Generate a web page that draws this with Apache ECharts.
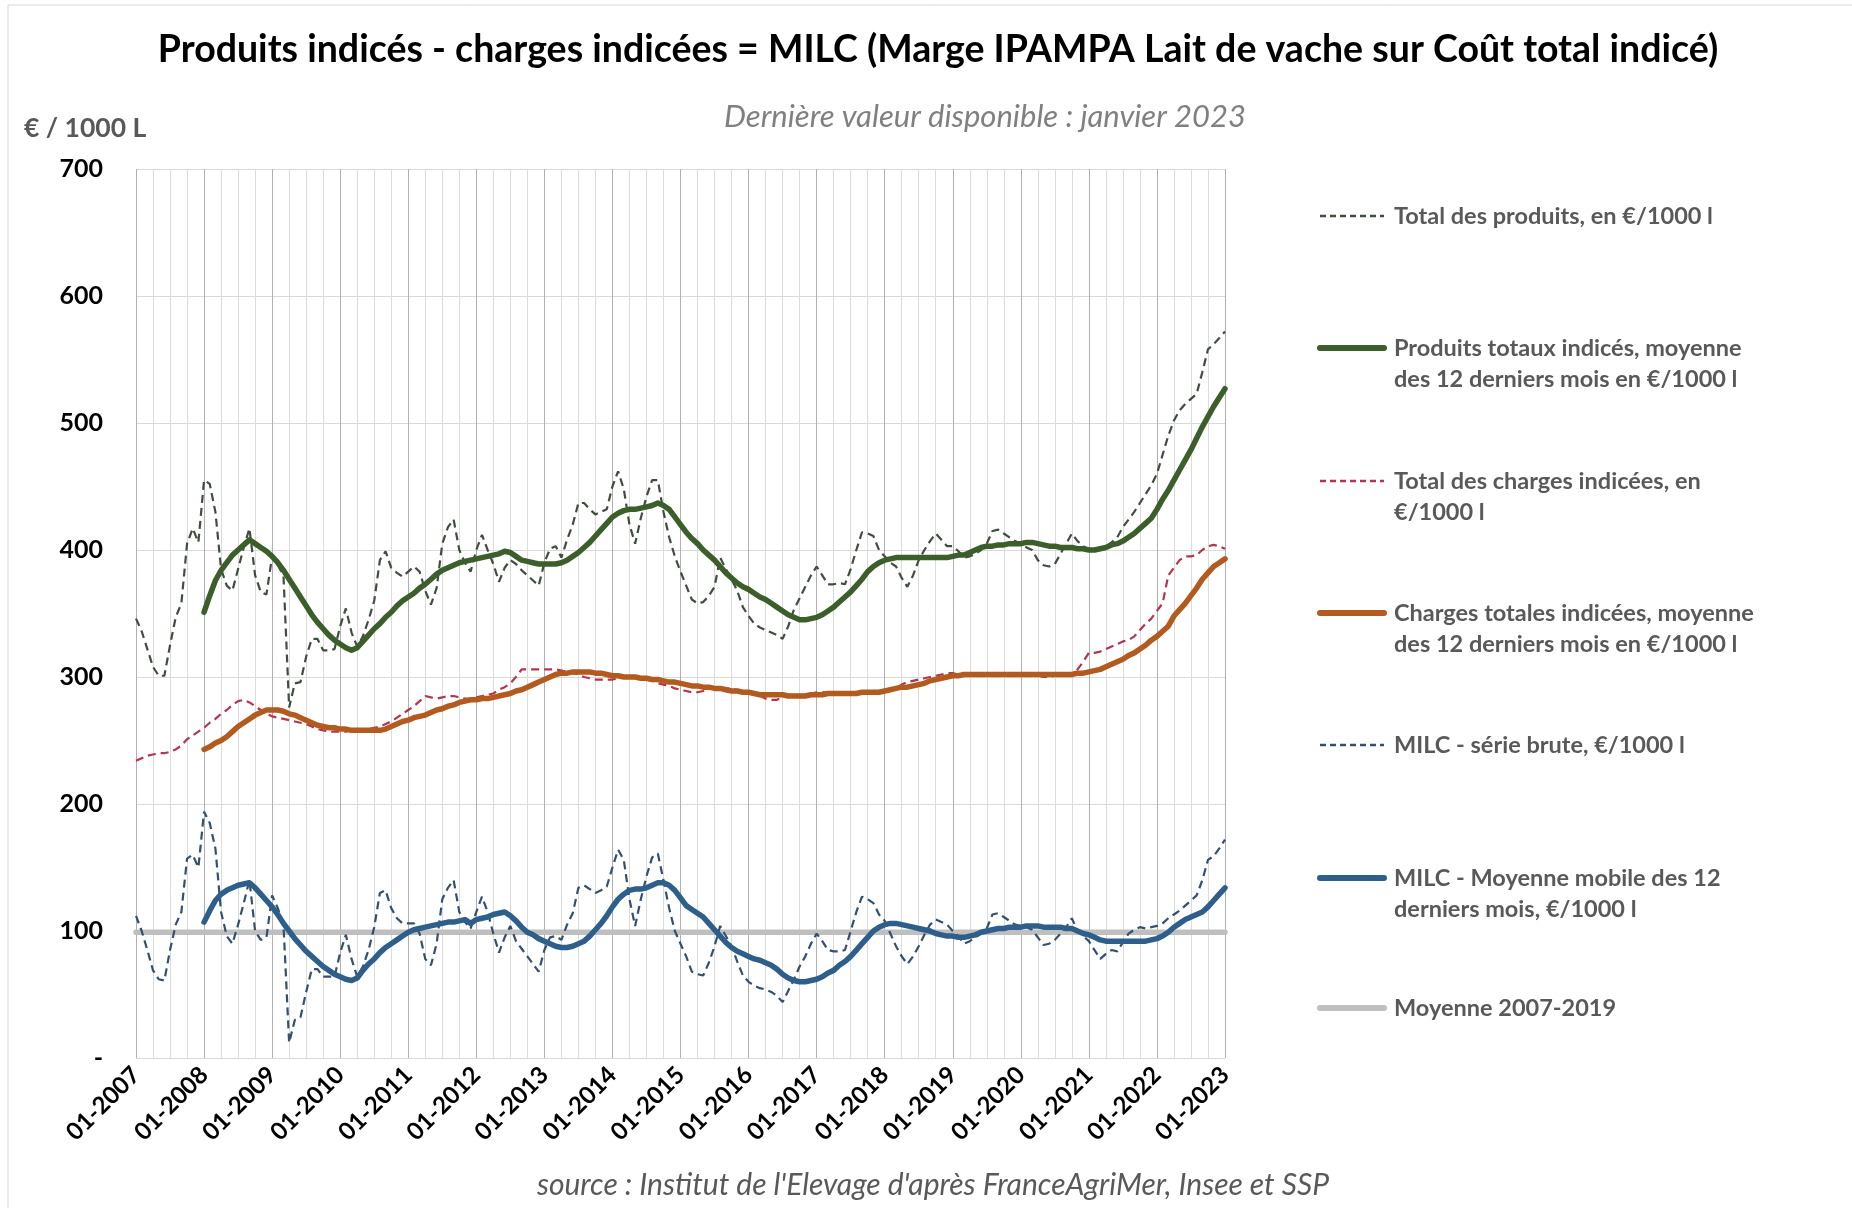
<!DOCTYPE html>
<html>
<head>
<meta charset="utf-8">
<title>MILC - Marge IPAMPA Lait de vache</title>
<script src="https://cdn.jsdelivr.net/npm/echarts@6/dist/echarts.min.js"></script>
<style>
  html, body { margin: 0; padding: 0; background: #fff; }
  #chart { width: 1852px; height: 1208px; }
</style>
</head>
<body>
<div id="chart"></div>
<script>
// axe des mois : 01-2007 -> 01-2023
const months = []
for (let y = 2007; y <= 2023; y++) {
    for (let m = 1; m <= 12; m++) {
        if (y === 2023 && m > 1) break
        months.push((m < 10 ? '0' + m : '' + m) + '-' + y)
    }
}

// Total des produits, en €/1000 l (mensuel)
const totalProduits = [
    346, 336, 322, 308, 301, 301, 325, 347, 358, 405, 417, 406, // 2007
    455, 452, 430, 385, 372, 368, 385, 402, 417, 380, 367, 365, // 2008
    395, 388, 380, 276, 295, 296, 316, 330, 330, 321, 321, 322, // 2009
    340, 354, 335, 324, 332, 345, 360, 392, 399, 386, 382, 379, // 2010
    383, 387, 383, 368, 357, 370, 405, 418, 424, 400, 390, 383, // 2011
    400, 412, 400, 389, 375, 386, 392, 389, 384, 380, 376, 372, // 2012
    390, 401, 403, 394, 408, 420, 437, 437, 432, 428, 430, 432, // 2013
    450, 462, 448, 420, 405, 425, 442, 455, 455, 430, 410, 395, // 2014
    383, 372, 361, 358, 359, 364, 371, 394, 385, 377, 368, 355, // 2015
    348, 342, 339, 337, 335, 333, 330, 340, 353, 362, 371, 380, // 2016
    387, 380, 373, 373, 374, 373, 385, 400, 414, 413, 411, 400, // 2017
    395, 390, 387, 378, 371, 380, 392, 400, 407, 413, 408, 403, // 2018
    403, 399, 394, 395, 397, 400, 405, 415, 416, 413, 410, 407, // 2019
    405, 402, 400, 392, 388, 387, 389, 397, 405, 413, 407, 403, // 2020
    400, 400, 401, 403, 406, 410, 418, 424, 430, 437, 444, 451, // 2021
    460, 475, 490, 502, 510, 515, 519, 523, 540, 558, 562, 567, // 2022
    572                                                         // 2023
]

// Produits totaux indicés, moyenne des 12 derniers mois
const produitsMoy = [
    null, null, null, null, null, null, null, null, null, null, null, null, // 2007
    351, 364, 376, 384, 390, 396, 400, 404, 408, 405, 402, 399, // 2008
    395, 390, 384, 377, 370, 363, 356, 349, 343, 338, 333, 329, // 2009
    326, 323, 321, 323, 328, 333, 338, 342, 347, 351, 356, 360, // 2010
    363, 366, 370, 373, 377, 381, 384, 386, 388, 390, 391, 392, // 2011
    393, 394, 395, 396, 397, 399, 398, 395, 392, 391, 390, 389, // 2012
    389, 389, 389, 390, 392, 395, 398, 402, 406, 411, 416, 421, // 2013
    426, 429, 431, 432, 432, 433, 434, 435, 437, 435, 432, 426, // 2014
    420, 414, 409, 405, 400, 396, 392, 387, 382, 378, 374, 371, // 2015
    369, 366, 363, 361, 358, 355, 352, 349, 347, 345, 345, 346, // 2016
    347, 349, 352, 355, 359, 363, 367, 372, 377, 383, 387, 390, // 2017
    392, 393, 394, 394, 394, 394, 394, 394, 394, 394, 394, 394, // 2018
    395, 396, 396, 398, 400, 402, 403, 403, 404, 404, 405, 405, // 2019
    405, 406, 406, 405, 404, 403, 403, 402, 402, 402, 401, 401, // 2020
    400, 400, 401, 402, 404, 405, 407, 410, 413, 417, 421, 425, // 2021
    432, 440, 447, 455, 463, 471, 479, 488, 497, 505, 513, 520, // 2022
    527                                                         // 2023
]

// Total des charges indicées, en €/1000 l
const totalCharges = [
    234, 236, 238, 239, 240, 240, 241, 243, 246, 251, 254, 257, // 2007
    260, 264, 267, 271, 274, 278, 281, 282, 280, 277, 274, 271, // 2008
    269, 268, 267, 266, 265, 264, 263, 261, 259, 258, 257, 257, // 2009
    257, 257, 258, 258, 258, 259, 260, 261, 263, 265, 268, 271, // 2010
    274, 277, 281, 285, 284, 283, 284, 285, 285, 284, 283, 283, // 2011
    284, 285, 286, 287, 290, 292, 295, 300, 306, 306, 306, 306, // 2012
    306, 306, 306, 305, 304, 303, 302, 300, 299, 298, 298, 298, // 2013
    298, 299, 300, 300, 300, 299, 298, 297, 295, 294, 293, 291, // 2014
    290, 289, 288, 288, 289, 291, 292, 292, 291, 291, 290, 289, // 2015
    288, 287, 285, 283, 282, 282, 284, 286, 286, 286, 286, 287, // 2016
    288, 288, 288, 288, 288, 287, 287, 287, 287, 287, 287, 288, // 2017
    288, 289, 291, 294, 296, 297, 298, 299, 300, 301, 302, 303, // 2018
    303, 302, 302, 302, 302, 302, 302, 302, 302, 302, 302, 302, // 2019
    302, 302, 302, 301, 300, 300, 301, 302, 302, 303, 306, 312, // 2020
    319, 319, 320, 322, 324, 326, 328, 329, 332, 337, 342, 346, // 2021
    352, 358, 380, 386, 392, 395, 395, 396, 400, 403, 404, 403, // 2022
    401                                                         // 2023
]

// Charges totales indicées, moyenne des 12 derniers mois
const chargesMoy = [
    null, null, null, null, null, null, null, null, null, null, null, null, // 2007
    243, 245, 248, 250, 253, 257, 261, 264, 267, 270, 272, 274, // 2008
    274, 274, 273, 271, 270, 268, 266, 264, 262, 261, 260, 260, // 2009
    259, 259, 258, 258, 258, 258, 258, 258, 259, 261, 263, 265, // 2010
    266, 268, 269, 270, 272, 274, 275, 277, 278, 280, 281, 282, // 2011
    282, 283, 283, 284, 285, 286, 287, 289, 290, 292, 294, 296, // 2012
    298, 300, 302, 303, 303, 304, 304, 304, 304, 303, 303, 302, // 2013
    301, 301, 300, 300, 300, 299, 299, 298, 298, 297, 296, 296, // 2014
    295, 294, 293, 293, 292, 292, 291, 291, 290, 289, 289, 288, // 2015
    288, 287, 286, 286, 286, 286, 286, 285, 285, 285, 285, 286, // 2016
    286, 286, 287, 287, 287, 287, 287, 287, 288, 288, 288, 288, // 2017
    289, 290, 291, 292, 292, 293, 294, 295, 297, 298, 299, 300, // 2018
    301, 301, 302, 302, 302, 302, 302, 302, 302, 302, 302, 302, // 2019
    302, 302, 302, 302, 302, 302, 302, 302, 302, 302, 303, 303, // 2020
    304, 305, 306, 308, 310, 312, 314, 317, 319, 322, 325, 329, // 2021
    332, 336, 340, 348, 353, 358, 364, 370, 377, 382, 387, 390, // 2022
    393                                                         // 2023
]

// MILC - série brute, €/1000 l
const milcBrute = [
    112, 100, 85, 69, 62, 61, 85, 105, 115, 157, 160, 150,      // 2007
    194, 185, 165, 115, 96, 90, 105, 122, 140, 100, 93, 95,     // 2008
    128, 118, 105, 12, 30, 32, 52, 70, 70, 64, 64, 64,          // 2009
    83, 97, 78, 64, 72, 85, 103, 130, 132, 118, 110, 106,       // 2010
    106, 106, 98, 78, 73, 90, 125, 134, 140, 115, 107, 102,     // 2011
    115, 127, 115, 98, 83, 95, 104, 92, 86, 80, 74, 68,         // 2012
    85, 95, 96, 93, 105, 114, 134, 136, 133, 130, 132, 135,     // 2013
    150, 164, 156, 125, 104, 125, 143, 158, 161, 140, 118, 100, // 2014
    90, 80, 68, 66, 65, 75, 88, 104, 96, 88, 76, 65,            // 2015
    60, 57, 55, 54, 52, 49, 44, 53, 62, 72, 80, 90,             // 2016
    98, 92, 85, 84, 84, 85, 100, 115, 127, 125, 122, 113,       // 2017
    108, 98, 88, 80, 74, 80, 88, 97, 105, 109, 107, 105,        // 2018
    100, 96, 90, 92, 95, 98, 102, 113, 114, 111, 108, 105,      // 2019
    104, 103, 101, 95, 89, 90, 93, 98, 103, 110, 100, 96,       // 2020
    92, 85, 78, 82, 85, 84, 91, 98, 101, 103, 102, 103,         // 2021
    104, 106, 110, 113, 116, 120, 124, 128, 140, 156, 159, 165, // 2022
    172                                                         // 2023
]

// MILC - Moyenne mobile des 12 derniers mois
const milcMoy = [
    null, null, null, null, null, null, null, null, null, null, null, null, // 2007
    107, 116, 124, 129, 132, 134, 136, 137, 138, 134, 129, 124, // 2008
    119, 113, 106, 100, 94, 89, 84, 80, 76, 72, 69, 66,         // 2009
    64, 62, 61, 63, 69, 74, 78, 83, 87, 90, 93, 96,             // 2010
    99, 101, 102, 103, 104, 105, 106, 107, 107, 108, 109, 106,  // 2011
    109, 110, 111, 113, 114, 115, 112, 108, 103, 99, 97, 94,    // 2012
    92, 90, 88, 87, 87, 88, 90, 92, 96, 101, 106, 112,          // 2013
    119, 125, 129, 132, 133, 133, 134, 136, 138, 138, 136, 132, // 2014
    126, 120, 117, 114, 111, 106, 101, 96, 91, 87, 84, 82,      // 2015
    80, 78, 77, 75, 73, 70, 66, 63, 61, 60, 60, 61,             // 2016
    62, 64, 67, 69, 73, 76, 80, 85, 90, 95, 100, 103,           // 2017
    105, 106, 106, 105, 104, 103, 102, 101, 100, 98, 97, 96,    // 2018
    96, 95, 95, 96, 97, 99, 100, 101, 102, 102, 103, 103,       // 2019
    103, 104, 104, 104, 103, 103, 103, 103, 102, 102, 100, 98,  // 2020
    97, 95, 93, 92, 92, 92, 92, 92, 92, 92, 92, 93,             // 2021
    94, 96, 99, 103, 106, 109, 111, 113, 115, 119, 124, 129,    // 2022
    134                                                         // 2023
]

// Moyenne 2007-2019 (niveau constant)
const moyenne0719 = [['01-2007', 99], ['01-2023', 99]]

const seriesNames = [
    'Total des produits, en €/1000 l',
    'Produits totaux indicés, moyenne des 12 derniers mois en €/1000 l',
    'Total des charges indicées, en €/1000 l',
    'Charges totales indicées, moyenne des 12 derniers mois en €/1000 l',
    'MILC - série brute, €/1000 l',
    'MILC - Moyenne mobile des 12 derniers mois, €/1000 l',
    'Moyenne 2007-2019'
]
const legendLabels = [
    'Total des produits, en €/1000 l',
    'Produits totaux indicés, moyenne\ndes 12 derniers mois en €/1000 l',
    'Total des charges indicées, en\n€/1000 l',
    'Charges totales indicées, moyenne\ndes 12 derniers mois en €/1000 l',
    'MILC - série brute, €/1000 l',
    'MILC - Moyenne mobile des 12\nderniers mois, €/1000 l',
    'Moyenne 2007-2019'
]
const colors = ['#404e40', '#3b5e2b', '#b5344e', '#b35a1f', '#34506e', '#2e5f8a', '#bfbfbf']
const dashed = [true, false, true, false, true, false, false]

const FONT = 'Lato'
let chart = echarts.init(document.getElementById('chart'))

function lineSeries(i, data, z) {
    return {
        name: seriesNames[i],
        type: 'line',
        data: data,
        showSymbol: false,
        z: z,
        lineStyle: dashed[i]
            ? { color: colors[i], width: 2.2, type: [8, 5] }
            : { color: colors[i], width: 5.5, cap: 'round', join: 'round' },
        itemStyle: { color: colors[i] }
    }
}

// légende dessinée à droite
let legendItems = []
const legendTop = [216, 348, 481, 613, 745, 878, 1008]
legendLabels.forEach(function(label, i) {
    legendItems.push({
        type: 'line',
        shape: { x1: 1320, y1: legendTop[i], x2: 1384, y2: legendTop[i] },
        style: dashed[i]
            ? { stroke: colors[i], lineWidth: 2.5, lineDash: [6, 4] }
            : { stroke: colors[i], lineWidth: 6, lineCap: 'round' }
    })
    legendItems.push({
        type: 'text',
        x: 1394,
        y: legendTop[i] - 15.5,
        style: {
            text: label,
            fill: '#595959',
            font: 'bold 23.5px ' + FONT,
            lineHeight: 31,
            textVerticalAlign: 'top',
            verticalAlign: 'top'
        }
    })
})

chart.setOption({
    animation: false,
    backgroundColor: '#fff',
    textStyle: { fontFamily: FONT },
    grid: { left: 136, right: 627, top: 169, bottom: 150 },
    xAxis: {
        type: 'category',
        data: months,
        boundaryGap: false,
        axisLine: { show: true, lineStyle: { color: '#d9d9d9' } },
        axisTick: { show: false },
        axisLabel: {
            interval: 11,
            rotate: 45,
            margin: 13,
            fontFamily: FONT,
            fontWeight: 'bold',
            fontSize: 24,
            color: '#000'
        },
        splitLine: {
            show: true,
            interval: 2,
            lineStyle: { color: ['#b0b0b0', '#dcdcdc', '#dcdcdc', '#dcdcdc'], width: 1 }
        }
    },
    yAxis: {
        type: 'value',
        min: 0,
        max: 700,
        interval: 100,
        axisLine: { show: false },
        axisTick: { show: false },
        axisLabel: {
            margin: 33,
            fontFamily: FONT,
            fontWeight: 'bold',
            fontSize: 25,
            color: '#000',
            formatter: function(v) { return v === 0 ? '-' : v }
        },
        splitLine: { lineStyle: { color: '#d9d9d9' } }
    },
    series: [
        lineSeries(6, moyenne0719, 1),
        lineSeries(0, totalProduits, 2),
        lineSeries(1, produitsMoy, 3),
        lineSeries(2, totalCharges, 2),
        lineSeries(3, chargesMoy, 3),
        lineSeries(4, milcBrute, 2),
        lineSeries(5, milcMoy, 3)
    ],
    graphic: [
        {
            type: 'rect',
            silent: true,
            shape: { x: 8, y: 5, width: 1900, height: 1260 },
            style: { fill: 'none', stroke: '#d9d9d9', lineWidth: 1 }
        },
        {
            type: 'text',
            x: 938, y: 50,
            style: {
                text: 'Produits indicés - charges indicées = MILC (Marge IPAMPA Lait de vache sur Coût total indicé)',
                font: 'bold 37.5px ' + FONT, fill: '#000',
                textAlign: 'center', textVerticalAlign: 'middle', align: 'center', verticalAlign: 'middle'
            }
        },
        {
            type: 'text',
            x: 985, y: 117,
            style: {
                text: 'Dernière valeur disponible : janvier 2023',
                font: 'italic 31px ' + FONT, fill: '#808080',
                textAlign: 'center', textVerticalAlign: 'middle', align: 'center', verticalAlign: 'middle'
            }
        },
        {
            type: 'text',
            x: 24, y: 128,
            style: {
                text: '€ / 1000 L',
                font: 'bold 26.5px ' + FONT, fill: '#595959',
                textVerticalAlign: 'middle', verticalAlign: 'middle'
            }
        },
        {
            type: 'text',
            x: 933, y: 1185,
            style: {
                text: "source : Institut de l'Elevage d'après FranceAgriMer, Insee et SSP",
                font: 'italic 30px ' + FONT, fill: '#595959',
                textAlign: 'center', textVerticalAlign: 'middle', align: 'center', verticalAlign: 'middle'
            }
        },
        { type: 'group', children: legendItems }
    ]
})
</script>
</body>
</html>
